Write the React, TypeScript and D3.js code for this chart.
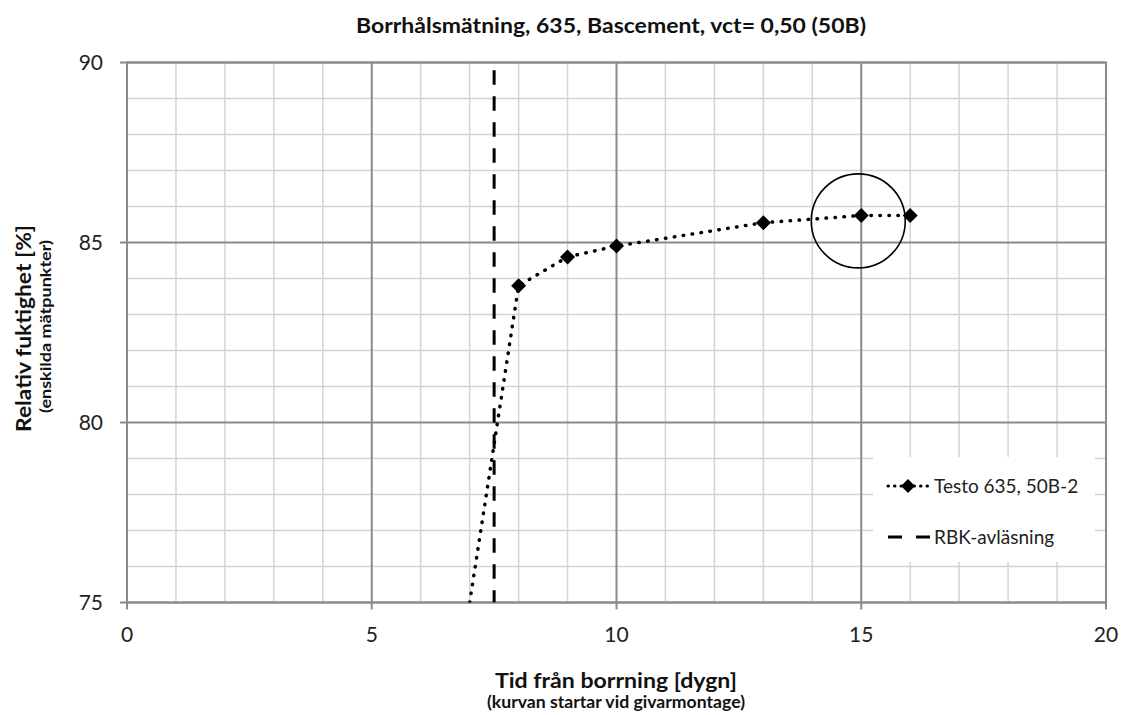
import React from "react";
import * as d3 from "d3";

// Measured readings (days since drilling, relative humidity %)
const measuredDays = [8, 9, 10, 13, 15, 16];
const measuredRf = [83.8, 84.6, 84.9, 85.55, 85.75, 85.75];
// Curve start at sensor mounting (no marker)
const startDay = 7;
const startRf = 75;
// RBK reading time
const rbkDay = 7.5;
// Highlighted reading
const highlightDay = 15;
const highlightRf = 85.6;

const xTicks = [0, 5, 10, 15, 20];
const yTicks = [75, 80, 85, 90];
const xMinor = d3.range(0, 21, 1);
const yMinor = d3.range(75, 91, 1);

const title = "Borrhålsmätning, 635, Bascement, vct= 0,50 (50B)";
const xTitle = "Tid från borrning [dygn]";
const xSubtitle = "(kurvan startar vid givarmontage)";
const yTitle = "Relativ fuktighet [%]";
const ySubtitle = "(enskilda mätpunkter)";
const seriesName = "Testo 635, 50B-2";
const rbkName = "RBK-avläsning";

const W = 1122;
const H = 715;
const plot = { left: 127, right: 1106, top: 62.5, bottom: 602.5 };
const FONT = "Lato, 'Open Sans', sans-serif";

const diamond = (cx: number, cy: number, r: number) =>
  `M${cx},${cy - r}L${cx + r},${cy}L${cx},${cy + r}L${cx - r},${cy}Z`;

export default function App() {
  const x = d3.scaleLinear().domain([0, 20]).range([plot.left, plot.right]);
  const y = d3.scaleLinear().domain([75, 90]).range([plot.bottom, plot.top]);

  const pts: [number, number][] = [[startDay, startRf]].concat(
    measuredDays.map((d, i) => [d, measuredRf[i]] as [number, number])
  ) as [number, number][];
  const line = d3
    .line<[number, number]>()
    .x((d) => x(d[0]))
    .y((d) => y(d[1]));

  const minorColor = "#d4d4d4";
  const majorColor = "#8a8a8a";

  return (
    <svg
      width={W}
      height={H}
      style={{ position: "absolute", left: 0, top: 0, background: "#fff" }}
      fontFamily={FONT}
    >
      <rect width={W} height={H} fill="#fff" />
      <defs>
        <clipPath id="plotClip">
          <rect x={plot.left} y={plot.top} width={plot.right - plot.left} height={plot.bottom - plot.top} />
        </clipPath>
      </defs>

      {/* minor grid */}
      {xMinor.filter((v) => v % 5 !== 0).map((v) => (
        <line key={"xm" + v} x1={x(v)} x2={x(v)} y1={plot.top} y2={plot.bottom} stroke={minorColor} strokeWidth={1.5} />
      ))}
      {yMinor.filter((v) => v % 5 !== 0).map((v) => (
        <line key={"ym" + v} x1={plot.left} x2={plot.right} y1={y(v)} y2={y(v)} stroke={minorColor} strokeWidth={1.5} />
      ))}
      {/* major grid */}
      {xTicks.map((v) => (
        <line key={"xM" + v} x1={x(v)} x2={x(v)} y1={plot.top} y2={plot.bottom + 7} stroke={majorColor} strokeWidth={2} />
      ))}
      {yTicks.map((v) => (
        <line key={"yM" + v} x1={plot.left - 7} x2={plot.right} y1={y(v)} y2={y(v)} stroke={majorColor} strokeWidth={2} />
      ))}
      <rect
        x={plot.left}
        y={plot.top}
        width={plot.right - plot.left}
        height={plot.bottom - plot.top}
        fill="none"
        stroke={majorColor}
        strokeWidth={2}
      />

      {/* tick labels */}
      {xTicks.map((v) => (
        <text key={"xl" + v} x={x(v)} y={642} textAnchor="middle" fontSize={21} fill="#222">
          {v}
        </text>
      ))}
      {yTicks.map((v) => (
        <text key={"yl" + v} x={103} y={y(v) + 7.5} textAnchor="end" fontSize={21} fill="#222">
          {v}
        </text>
      ))}

      {/* series */}
      <g clipPath="url(#plotClip)">
        <line
          x1={x(rbkDay)}
          x2={x(rbkDay)}
          y1={y(90)}
          y2={y(75)}
          stroke="#000"
          strokeWidth={3}
          strokeDasharray="14.5 11.5"
          strokeDashoffset={18.3}
        />
        <path
          d={line(pts) || ""}
          fill="none"
          stroke="#000"
          strokeWidth={3.5}
          strokeLinecap="round"
          strokeDasharray="0.5 8.5"
        />
        {measuredDays.map((d, i) => (
          <path key={"m" + i} d={diamond(x(d), y(measuredRf[i]), 7.5)} fill="#000" />
        ))}
      </g>

      {/* highlight circle */}
      <circle cx={x(highlightDay) - 3} cy={y(highlightRf)} r={47} fill="none" stroke="#000" strokeWidth={1.6} />

      {/* legend */}
      <rect x={873} y={457} width={222} height={105} fill="#fff" />
      <line x1={888} x2={928} y1={486} y2={486} stroke="#000" strokeWidth={3} strokeLinecap="round" strokeDasharray="0.5 6" />
      <path d={diamond(908, 486, 7)} fill="#000" />
      <text x={934} y={493} fontSize={19} fill="#222">
        {seriesName}
      </text>
      <line x1={888} x2={930} y1={537} y2={537} stroke="#000" strokeWidth={3} strokeDasharray="14 14" />
      <text x={934} y={544} fontSize={19} fill="#222">
        {rbkName}
      </text>

      {/* titles */}
      <text x={611} y={33} textAnchor="middle" fontSize={20} fontWeight="bold" fill="#111" textLength={510} lengthAdjust="spacingAndGlyphs">
        {title}
      </text>
      <text x={616} y={688} textAnchor="middle" fontSize={21} fontWeight="bold" fill="#111" textLength={242} lengthAdjust="spacingAndGlyphs">
        {xTitle}
      </text>
      <text x={616} y={708} textAnchor="middle" fontSize={17} fontWeight="bold" fill="#111" textLength={258} lengthAdjust="spacingAndGlyphs">
        {xSubtitle}
      </text>
      <text
        transform={`translate(31,328.5) rotate(-90)`}
        textAnchor="middle"
        fontSize={21}
        fontWeight="bold"
        fill="#111"
        textLength={207}
        lengthAdjust="spacingAndGlyphs"
      >
        {yTitle}
      </text>
      <text
        transform={`translate(51,326.5) rotate(-90)`}
        textAnchor="middle"
        fontSize={15}
        fontWeight="bold"
        fill="#111"
        textLength={173}
        lengthAdjust="spacingAndGlyphs"
      >
        {ySubtitle}
      </text>
    </svg>
  );
}
